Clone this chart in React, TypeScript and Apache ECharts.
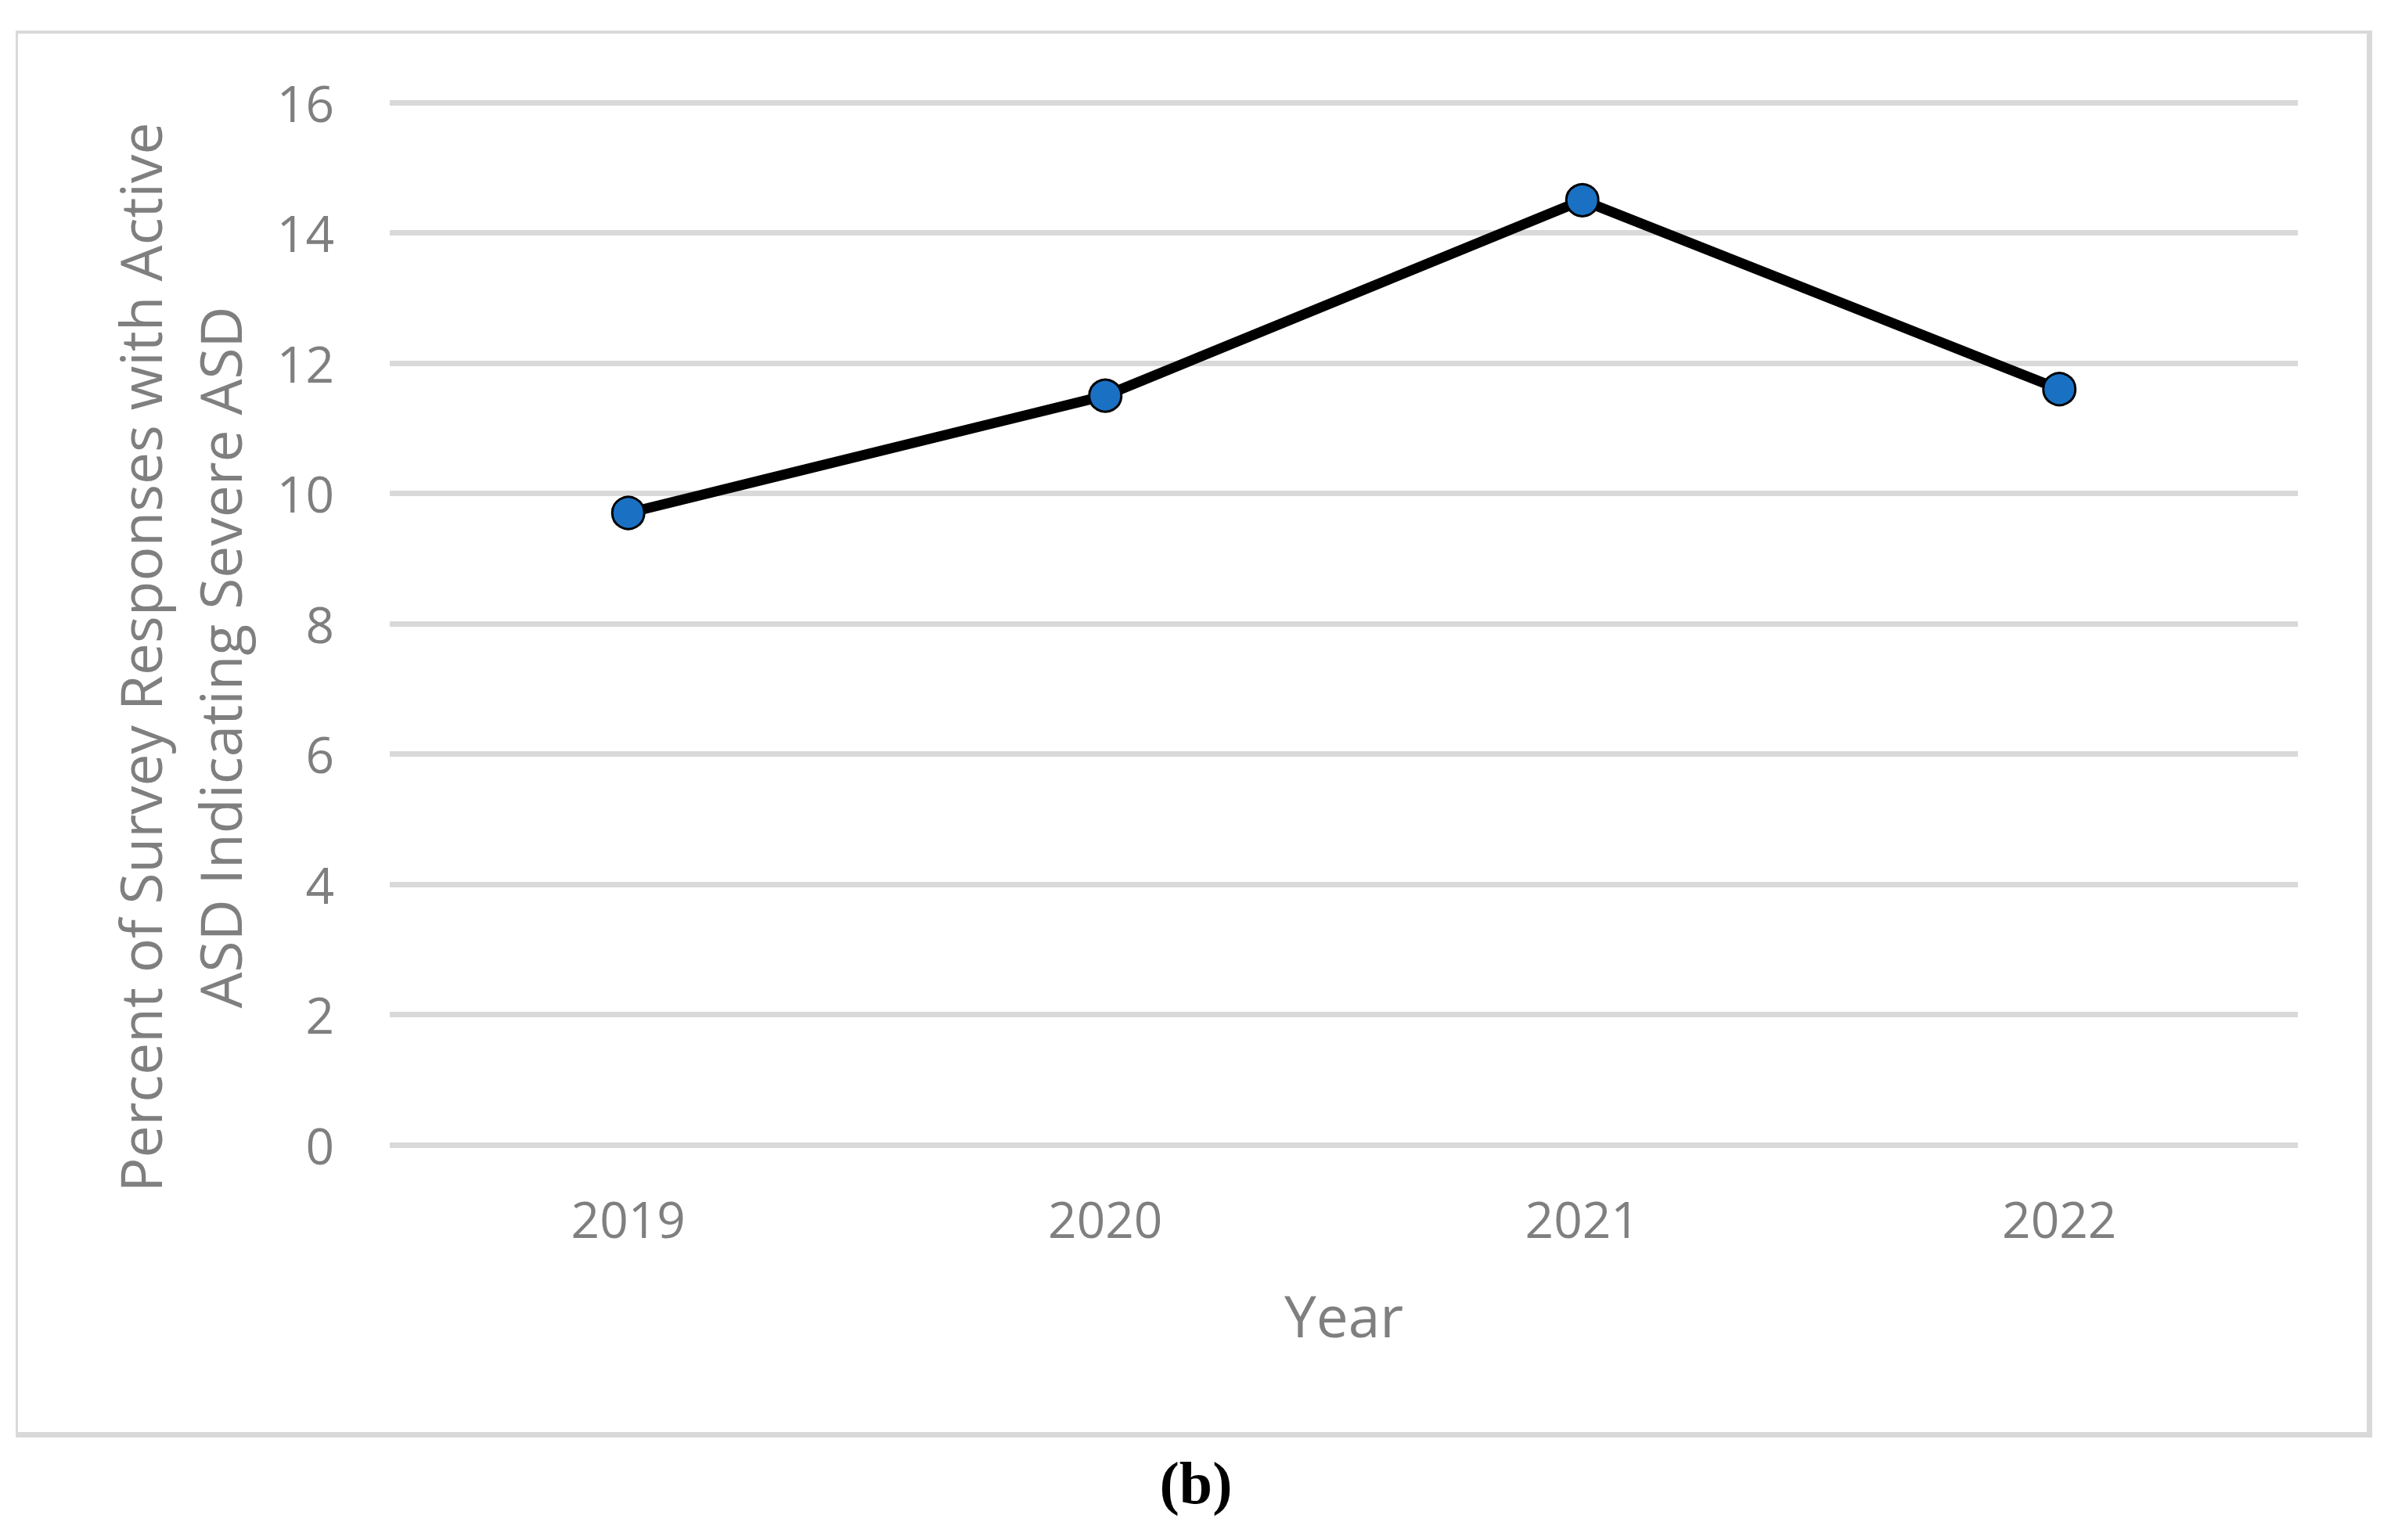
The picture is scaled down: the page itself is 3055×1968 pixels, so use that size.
import React, { useEffect, useRef } from "react";
import * as echarts from "echarts";

const years = ["2019", "2020", "2021", "2022"];
const severePercent = [9.7, 11.5, 14.5, 11.6];
const yTitleLines = ["Percent of Survey Responses with Active", "ASD Indicating Severe ASD"];
const xTitle = "Year";
const caption = "(b)";

export default function App() {
  const ref = useRef<HTMLDivElement>(null);
  useEffect(() => {
    document.body.style.margin = "0";
    const chart = echarts.init(ref.current!, null, { renderer: "svg" });
    const gray = "#7f7f7f";
    const font = "'Open Sans', sans-serif";
    chart.setOption({
      animation: false,
      backgroundColor: "#ffffff",
      grid: { left: 498, right: 119, top: 131, bottom: 505, containLabel: false },
      xAxis: {
        type: "category",
        data: years,
        boundaryGap: true,
        axisLine: { show: false },
        axisTick: { show: false },
        axisLabel: { color: gray, fontSize: 64, fontFamily: font, margin: 62 },
        name: xTitle,
        nameLocation: "middle",
        nameGap: 181,
        nameTextStyle: { color: gray, fontSize: 73, fontFamily: font },
      },
      yAxis: {
        type: "value",
        min: 0,
        max: 16,
        interval: 2,
        axisLine: { show: false },
        axisTick: { show: false },
        axisLabel: { color: gray, fontSize: 64, fontFamily: font, margin: 71 },
        splitLine: { show: true, lineStyle: { color: "#d9d9d9", width: 7 } },
      },
      series: [
        {
          type: "line",
          data: severePercent,
          symbol: "circle",
          symbolSize: 41,
          lineStyle: { color: "#000000", width: 13 },
          itemStyle: { color: "#1A71C4", borderColor: "#000000", borderWidth: 3 },
          z: 3,
        },
      ],
      graphic: [
        { type: "rect", shape: { x: 20, y: 39, width: 3011, height: 4 }, style: { fill: "#d9d9d9" }, silent: true },
        { type: "rect", shape: { x: 20, y: 39, width: 3, height: 1798 }, style: { fill: "#d9d9d9" }, silent: true },
        { type: "rect", shape: { x: 3024, y: 39, width: 7, height: 1798 }, style: { fill: "#d9d9d9" }, silent: true },
        { type: "rect", shape: { x: 20, y: 1830, width: 3011, height: 7 }, style: { fill: "#d9d9d9" }, silent: true },
        {
          type: "text",
          x: 229,
          y: 840,
          rotation: Math.PI / 2,
          style: {
            text: yTitleLines.join("\n"),
            fill: gray,
            font: `73px ${font}`,
            lineHeight: 102,
            textAlign: "center",
            textVerticalAlign: "middle",
          },
        },
        {
          type: "text",
          x: 1528,
          y: 1895,
          style: {
            text: caption,
            fill: "#000000",
            font: `bold 76px 'Liberation Serif', serif`,
            textAlign: "center",
            textVerticalAlign: "middle",
          },
        },
      ],
    });
    return () => chart.dispose();
  }, []);
  return <div ref={ref} style={{ width: 3055, height: 1968 }} />;
}
